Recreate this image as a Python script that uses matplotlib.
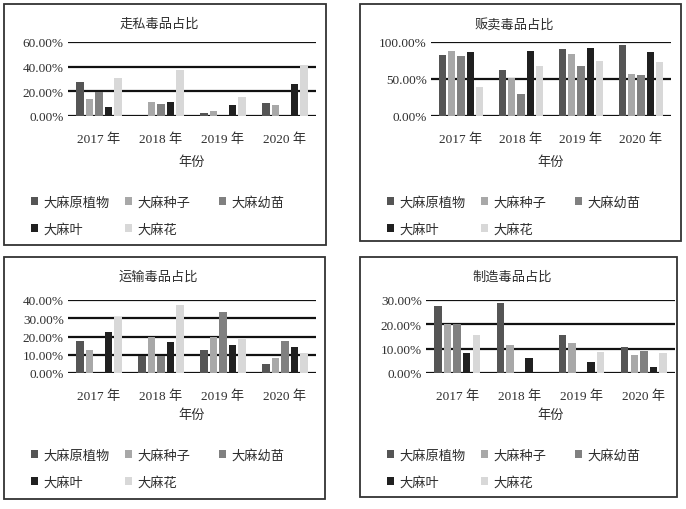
import matplotlib
matplotlib.use("Agg")
import matplotlib.pyplot as plt
from matplotlib.patches import Rectangle, Patch
import numpy as np

plt.rcParams['font.family'] = ['Liberation Serif', 'Noto Sans CJK SC', 'DejaVu Sans']

years = ["2017 年", "2018 年", "2019 年", "2020 年"]
series = ["大麻原植物", "大麻种子", "大麻幼苗", "大麻叶", "大麻花"]
colors = ["#555555", "#a8a8a8", "#808080", "#202020", "#d8d8d8"]

smuggling = [[27.6, 0.0, 2.4, 10.5],
             [13.5, 11.0, 3.8, 8.6],
             [19.7, 9.7, 0.0, 0.0],
             [7.3, 11.0, 8.6, 26.2],
             [30.5, 37.3, 15.4, 41.6]]
selling = [[82.7, 62.7, 90.9, 95.9],
           [87.7, 50.9, 84.1, 56.8],
           [80.9, 30.0, 67.7, 55.0],
           [86.4, 87.7, 91.8, 86.4],
           [39.5, 67.7, 75.0, 73.6]]
transport = [[17.8, 9.5, 12.5, 4.8],
             [12.8, 19.6, 20.0, 8.3],
             [0.0, 9.4, 33.2, 17.8],
             [22.6, 17.2, 15.4, 14.1],
             [30.6, 37.1, 18.9, 10.8]]
manufacture = [[27.5, 28.9, 15.5, 10.6],
               [20.1, 11.6, 12.4, 7.6],
               [20.1, 0.0, 0.0, 9.1],
               [8.3, 6.1, 4.7, 2.6],
               [15.5, 0.0, 8.7, 8.4]]

panels = [
    ("走私毒品占比", smuggling, [0, 20, 40, 60]),
    ("贩卖毒品占比", selling, [0, 50, 100]),
    ("运输毒品占比", transport, [0, 10, 20, 30, 40]),
    ("制造毒品占比", manufacture, [0, 10, 20, 30]),
]

W, H = 686, 510
fig = plt.figure(figsize=(W / 100, H / 100), dpi=100)

# layout in pixels: (box l, t, r, b), (axes l, t, r, b)
boxes = [(4, 5, 326, 246), (360, 5, 681, 242), (4, 258, 325, 500), (360, 258, 677, 498)]
axes_px = [(68, 43, 316, 117), (431, 43, 671, 117), (68, 301, 316, 374), (426, 301, 675, 374)]

txt_color = "#2e2e2e"
fs = 9.5

def fx(x):
    return x / W

def fy(y):
    return 1 - y / H

for (title, data, ticks), box, apx in zip(panels, boxes, axes_px):
    l, t, r, b = box
    fig.patches.append(Rectangle((fx(l), fy(b)), fx(r - l), (b - t) / H,
                                 transform=fig.transFigure, fill=False,
                                 edgecolor="#333333", linewidth=1.3))
    al, at, ar, ab = apx
    ax = fig.add_axes([fx(al), fy(ab), fx(ar - al), (ab - at) / H])
    x = np.arange(len(years))
    step = 0.153
    width = 0.118
    for i, (name, vals) in enumerate(zip(series, data)):
        ax.bar(x + (i - 2) * step, vals, width=width, color=colors[i], label=name)
    ax.set_xlim(-0.5, len(years) - 0.5)
    ax.set_ylim(0, ticks[-1])
    ax.set_yticks(ticks)
    ax.set_yticklabels([f"{v:.2f}%" for v in ticks], fontsize=fs, color=txt_color)
    ax.set_xticks(x)
    ax.set_xticklabels(years, fontsize=fs, color=txt_color)
    ax.tick_params(axis='both', length=0)
    ax.tick_params(axis='x', pad=12)
    ax.tick_params(axis='y', pad=3)
    for s in ax.spines.values():
        s.set_visible(False)
    ax.grid(axis='y', color='#111111', linewidth=1.6)
    ax.set_axisbelow(True)
    ax.patch.set_alpha(0)
    cx = (l + r) / 2
    fig.text(fx(cx - 6), fy(t + 20), title, ha='center', va='center',
             fontsize=fs, color=txt_color)
    fig.text(fx((al + ar) / 2), fy(t + 158), "年份", ha='center', va='center',
             fontsize=fs, color=txt_color)
    # legend: three columns, row-major order
    cols = [[0, 3], [1, 4], [2]]
    col_x = [l + 27, l + 121, l + 215]
    for cx_, idxs in zip(col_x, cols):
        handles = [Patch(facecolor=colors[k], edgecolor='none') for k in idxs]
        labels = [series[k] for k in idxs]
        fig.legend(handles, labels, loc='upper left',
                   bbox_to_anchor=(fx(cx_), fy(t + 192)),
                   bbox_transform=fig.transFigure, frameon=False,
                   fontsize=fs, borderpad=0, borderaxespad=0,
                   handlelength=0.55, handleheight=0.55, handletextpad=0.4,
                   labelspacing=1.05, labelcolor=txt_color)

fig.savefig("out.png", dpi=100)
